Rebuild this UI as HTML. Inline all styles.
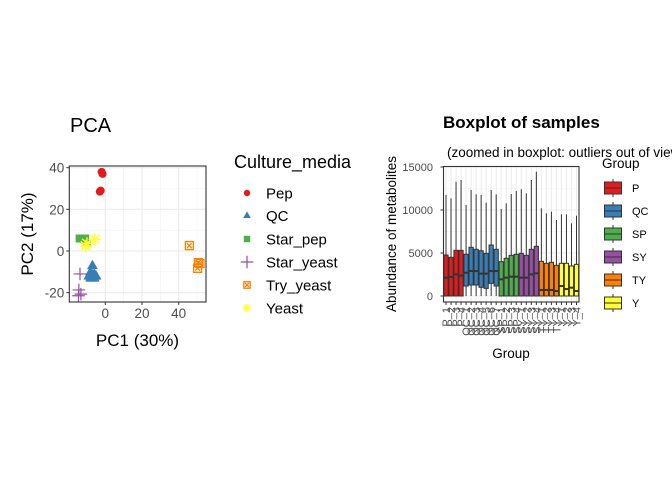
<!DOCTYPE html>
<html><head><meta charset="utf-8">
<style>
html,body{margin:0;padding:0;background:#fff;}
svg{display:block;font-family:"Liberation Sans",sans-serif;}
</style></head>
<body>
<svg id="root" width="672" height="480" viewBox="0 0 672 480" xmlns="http://www.w3.org/2000/svg">
<rect width="672" height="480" fill="#fff"/>
<g id="pca"></g>
<g id="box"></g>
</svg>
<script>
// ---- PCA data ----
const pcaGroups = ["Pep","QC","Star_pep","Star_yeast","Try_yeast","Yeast"];
const pcaColors = ["#E41A1C","#377EB8","#4DAF4A","#984EA3","#FF7F00","#FFFF33"];
const pcaX = {
  Pep:[-1.5,-2,-2.5,-3],
  QC:[-7,-8,-6,-9,-5,-8,-6],
  Star_pep:[-14,-12,-11,-10],
  Star_yeast:[-13.8,-14.4,-14.6,-13.3],
  Try_yeast:[45.8,50.7,50.3,51.6],
  Yeast:[-5.7,-10.7,-10]
};
const pcaY = {
  Pep:[37,38,29,28.5],
  QC:[-7,-10,-11,-12,-12,-13,-13],
  Star_pep:[6,6,6,4],
  Star_yeast:[-11,-18.7,-21.5,-20.7],
  Try_yeast:[2.6,-5.6,-8.3,-6],
  Yeast:[5.6,2.4,3.6]
};
const pcaXTicks = [0,20,40];
const pcaYTicks = [-20,0,20,40];

// ---- Boxplot data ----
const boxGroups = ["P","QC","SP","SY","TY","Y"];
const boxColors = ["#E41A1C","#377EB8","#4DAF4A","#984EA3","#FF7F00","#FFFF33"];
const sampleGroup = ["P","P","P","P","QC","QC","QC","QC","QC","QC","QC","SP","SP","SP","SP","SY","SY","SY","SY","TY","TY","TY","TY","Y","Y","Y","Y"];
const sampleLabels = ["P_1","P_2","P_3","P_4","QC_1","QC_2","QC_3","QC_4","QC_5","QC_6","QC_7","SP_1","SP_2","SP_3","SP_4","SY_1","SY_2","SY_3","SY_4","TY_1","TY_2","TY_3","TY_4","Y_1","Y_2","Y_3","Y_4"];
const whiskerHigh = [11750,11360,13300,13490,10580,12330,11820,11750,10860,12330,11820,10120,10780,11860,12210,12410,11940,13490,14460,10200,9610,9810,8840,9500,9500,8450,9340];
const q3 = [4770,4500,5310,5310,4850,5660,5430,5270,4960,5930,5430,3990,4380,4730,4850,4960,4730,5430,5780,4030,3800,3920,3570,3800,3800,3490,3680];
const medians = [2130,2210,2520,2360,2710,2900,2900,2600,2600,2900,2900,1940,2130,2250,2250,2130,2130,2520,2640,700,700,700,580,1160,810,970,580];
const q1 = [0,0,0,0,1160,1280,1280,1010,890,1470,1160,0,0,0,0,0,0,0,0,0,0,0,0,0,0,0,0];
const whiskerLow = [0,0,0,0,0,0,0,0,0,0,0,0,0,0,0,0,0,0,0,0,0,0,0,0,0,0,0];
const boxYTicks = [0,5000,10000,15000];

const NS="http://www.w3.org/2000/svg";
function mk(parent,tag,attrs,text){const e=document.createElementNS(NS,tag);for(const k in attrs)e.setAttribute(k,attrs[k]);if(text!==undefined)e.textContent=text;parent.appendChild(e);return e;}

// ===== PCA =====
(function(){
const g=document.getElementById('pca');
const L=69.3,R=206,T=166,B=302;
const sx=v=>105.3+v*1.835, sy=v=>251-v*2.083;
mk(g,'rect',{x:L,y:T,width:R-L,height:B-T,fill:'#fff'});
[-10,10,30,50].forEach(v=>{const x=sx(v);if(x>L&&x<R){const l=mk(g,'line',{x1:x,x2:x,y1:T,y2:B,stroke:'#f2f2f2','stroke-width':0.6});}});
[-10,10,30].forEach(v=>{const y=sy(v);const l=mk(g,'line',{x1:L,x2:R,y1:y,y2:y,stroke:'#f2f2f2','stroke-width':0.6});});
pcaXTicks.forEach(v=>{const x=sx(v);mk(g,'line',{x1:x,x2:x,y1:T,y2:B,stroke:'#ebebeb','stroke-width':1.1});
 mk(g,'line',{x1:x,x2:x,y1:B,y2:B+3,stroke:'#333'});
 const t=mk(g,'text',{x:x,y:B+16,'font-size':13.5,fill:'#4d4d4d','text-anchor':'middle'},String(v));});
pcaYTicks.forEach(v=>{const y=sy(v);mk(g,'line',{x1:L,x2:R,y1:y,y2:y,stroke:'#ebebeb','stroke-width':1.1});
 mk(g,'line',{x1:L-3,x2:L,y1:y,y2:y,stroke:'#333'});
 const t=mk(g,'text',{x:L-5,y:y+5,'font-size':13.5,fill:'#4d4d4d','text-anchor':'end'},String(v));});
const cp=mk(g,'clipPath',{id:'pcaclip'});mk(cp,'rect',{x:L,y:T,width:R-L,height:B-T});
const pts=mk(g,'g',{'clip-path':'url(#pcaclip)'});
function sym(par,gi,x,y,s){
 const c=pcaColors[gi];let e;
 if(gi===0){e=mk(par,'circle',{cx:x,cy:y,r:s,fill:c});}
 else if(gi===1){e=mk(par,'polygon',{points:`${x},${y-s*1.3} ${x-s*1.2},${y+s*0.8} ${x+s*1.2},${y+s*0.8}`,fill:c});}
 else if(gi===2){e=mk(par,'rect',{x:x-s,y:y-s,width:2*s,height:2*s,fill:c});}
 else if(gi===3){e=mk(par,'path',{d:`M${x-s*1.4},${y}H${x+s*1.4}M${x},${y-s*1.4}V${y+s*1.4}`,stroke:c,'stroke-width':1.2,fill:'none'});}
 else if(gi===4){e=mk(par,'path',{d:`M${x-s},${y-s}h${2*s}v${2*s}h${-2*s}z M${x-s*.6},${y-s*.6}L${x+s*.6},${y+s*.6}M${x+s*.6},${y-s*.6}L${x-s*.6},${y+s*.6}`,stroke:c,'stroke-width':1.3,fill:'none'});}
 else {e=mk(par,'path',{d:`M${x-s*1.3},${y}H${x+s*1.3}M${x},${y-s*1.3}V${y+s*1.3}M${x-s},${y-s}L${x+s},${y+s}M${x+s},${y-s}L${x-s},${y+s}`,stroke:c,'stroke-width':1.4,fill:'none'});}
 return e;}
pcaGroups.forEach((grp,gi)=>{pcaX[grp].forEach((xv,i)=>{const s=gi===3?4.5:(gi===5?4.8:(gi===1?4.5:4));const e=sym(pts,gi,sx(xv),sy(pcaY[grp][i]),s);
 
 });});
mk(g,'rect',{x:L,y:T,width:R-L,height:B-T,fill:'none',stroke:'#333','stroke-width':1.1});
let t=mk(g,'text',{x:70,y:132,'font-size':20,fill:'#000'},'PCA');
t=mk(g,'text',{x:137.5,y:346,'font-size':17,fill:'#000','text-anchor':'middle'},'PC1 (30%)');
t=mk(g,'text',{x:0,y:0,'font-size':17,fill:'#000','text-anchor':'middle',transform:'translate(33,234) rotate(-90)'},'PC2 (17%)');
const lg=mk(g,'g',{});
t=mk(lg,'text',{x:234,y:168,'font-size':18,fill:'#000'},'Culture_media');
const ly=[193,215.5,239,262,285,308];
pcaGroups.forEach((grp,gi)=>{const e=sym(lg,gi,247,ly[gi],gi===3?4.5:3.2);
 const tt=mk(lg,'text',{x:266,y:ly[gi]+5.5,'font-size':15,fill:'#000'},grp);});
})();

// ===== Boxplot =====
(function(){
const g=document.getElementById('box');
const L=443.5,R=579,T=166.5,B=302;
const n=sampleLabels.length;const bw=(R-L)/n;
const sy=v=>296-v*(129/15000);
const sx=i=>L+bw*(i+0.5);
mk(g,'rect',{x:L,y:T,width:R-L,height:B-T,fill:'#fff'});
[2500,7500,12500].forEach(v=>{mk(g,'line',{x1:L,x2:R,y1:sy(v),y2:sy(v),stroke:'#f2f2f2','stroke-width':0.6});});
boxYTicks.forEach(v=>{const y=sy(v);mk(g,'line',{x1:L,x2:R,y1:y,y2:y,stroke:'#ebebeb','stroke-width':1.1});
 mk(g,'line',{x1:L-3,x2:L,y1:y,y2:y,stroke:'#333'});
 const t=mk(g,'text',{x:433,y:y+4,'font-size':11,fill:'#4d4d4d','text-anchor':'end'},String(v));});
for(let i=0;i<n;i++){mk(g,'line',{x1:sx(i),x2:sx(i),y1:T,y2:B,stroke:'#ebebeb','stroke-width':1});}
for(let i=0;i<n;i++){
 const x=sx(i),c=boxColors[boxGroups.indexOf(sampleGroup[i])];
 const bg=mk(g,'g',{});
 mk(bg,'line',{x1:x,x2:x,y1:sy(whiskerHigh[i]),y2:sy(q3[i]),stroke:'#333','stroke-width':1});
 mk(bg,'line',{x1:x,x2:x,y1:sy(q1[i]),y2:sy(whiskerLow[i]),stroke:'#333','stroke-width':1});
 mk(bg,'rect',{x:x-bw*0.42,y:sy(q3[i]),width:bw*0.84,height:sy(q1[i])-sy(q3[i]),fill:c,stroke:'#333','stroke-width':1});
 mk(bg,'line',{x1:x-bw*0.42,x2:x+bw*0.42,y1:sy(medians[i]),y2:sy(medians[i]),stroke:'#333','stroke-width':2});
 mk(g,'line',{x1:x,x2:x,y1:B,y2:B+3,stroke:'#333'});
 const t=mk(g,'text',{x:0,y:0,'font-size':11,fill:'#4d4d4d','text-anchor':'end',transform:`translate(${x+4},${B+5}) rotate(-90)`},sampleLabels[i]);
 
}
mk(g,'rect',{x:L,y:T,width:R-L,height:B-T,fill:'none',stroke:'#333','stroke-width':1.1});
let t=mk(g,'text',{x:443,y:128,'font-size':17,'font-weight':'bold',fill:'#000'},'Boxplot of samples');
t=mk(g,'text',{x:447,y:157,'font-size':13.5,fill:'#000'},'(zoomed in boxplot: outliers out of view)');
t=mk(g,'text',{x:511,y:358,'font-size':13.5,fill:'#000','text-anchor':'middle'},'Group');
t=mk(g,'text',{x:0,y:0,'font-size':13.5,fill:'#000','text-anchor':'middle',transform:'translate(396,234) rotate(-90)'},'Abundance of metabolites');
const lg=mk(g,'g',{});
t=mk(lg,'text',{x:602,y:168,'font-size':13.5,fill:'#000'},'Group');
boxGroups.forEach((grp,gi)=>{const cy=188+gi*23;
 mk(lg,'line',{x1:613,x2:613,y1:cy-9,y2:cy+9,stroke:'#333','stroke-width':1});
 const r=mk(lg,'rect',{x:604.5,y:cy-6,width:17,height:12,fill:boxColors[gi],stroke:'#333','stroke-width':1});
 
 mk(lg,'line',{x1:604.5,x2:621.5,y1:cy,y2:cy,stroke:'#333','stroke-width':1});
 const tt=mk(lg,'text',{x:632,y:cy+4,'font-size':11,fill:'#000'},grp);});
})();
</script>
</body></html>
